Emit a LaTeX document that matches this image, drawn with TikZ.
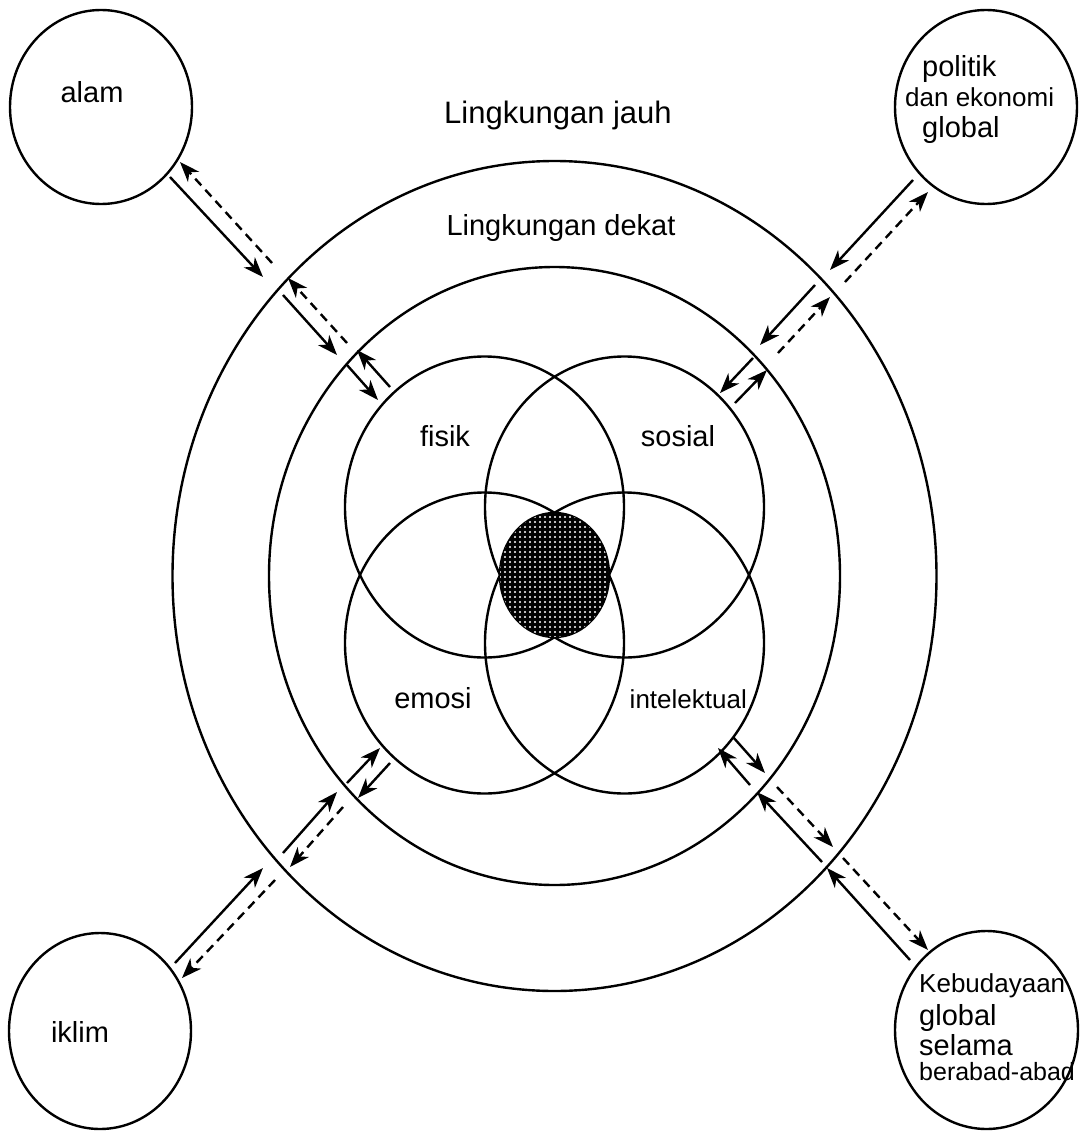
\documentclass[tikz,border=0pt]{standalone}
\usepackage{fontspec}
\setmainfont{Liberation Sans}
\usetikzlibrary{shapes.geometric,arrows.meta,patterns.meta}

\tikzset{
  ring/.style={draw, ellipse, line width=2.4pt, inner sep=0pt},
  lbl/.style={inner sep=0pt, font=\fontsize{29pt}{34pt}\selectfont},
  lblsmall/.style={inner sep=0pt, font=\fontsize{26pt}{30pt}\selectfont},
  inflow/.style={line width=2.4pt, -{Stealth[length=20pt,width=15pt,inset=6pt]}},
  outflow/.style={inflow, dash pattern=on 9pt off 6pt},
  backflow/.style={inflow},
}

\begin{document}
\begin{tikzpicture}[x=1pt, y=-1pt]
  \useasboundingbox (0,0) rectangle (1081,1132);

  % surroundings
  \node[ring, minimum width=764pt, minimum height=830pt] (jauh) at (554.5,576) {};
  \node[ring, minimum width=571pt, minimum height=618pt] (dekat) at (554.5,576) {};

  % the four sides of a person
  \node[ring, minimum width=279pt, minimum height=301pt] (fisik) at (484.5,507) {};
  \node[ring, minimum width=279pt, minimum height=301pt] (sosial) at (624.5,507) {};
  \node[ring, minimum width=279pt, minimum height=301pt] (emosi) at (484.5,643) {};
  \node[ring, minimum width=279pt, minimum height=301pt] (intelektual) at (624.5,643) {};
  \node[ring, minimum width=109pt, minimum height=124pt, fill=black,
        postaction={pattern={Dots[distance=5pt,radius=1.1pt]}, pattern color=white}] (inti) at (554.5,575) {};

  % outside influences
  \node[ring, minimum width=182pt, minimum height=194pt] (alam) at (101,107) {};
  \node[ring, minimum width=182pt, minimum height=194pt] (politik) at (986,107) {};
  \node[ring, minimum width=182pt, minimum height=196pt] (iklim) at (100,1031) {};
  \node[ring, minimum width=183pt, minimum height=198pt] (budaya) at (986.5,1030) {};

  % labels
  \node[inner sep=0pt, font=\fontsize{31pt}{36pt}\selectfont, anchor=base] (jauhlbl) at (558,123) {Lingkungan jauh};
  \node[lbl, anchor=base] (dekatlbl) at (561,235) {Lingkungan dekat};
  \node[lbl, anchor=base] (fisiklbl) at (445,446) {fisik};
  \node[lbl, anchor=base] (sosiallbl) at (678,446) {sosial};
  \node[lbl, anchor=base] (emosilbl) at (433,708) {emosi};
  \node[lblsmall, anchor=base east] (intellbl) at (747,708) {intelektual};
  \node[lbl, anchor=base] (alamlbl) at (92,102) {alam};
  \node[lbl, anchor=base] (iklimlbl) at (80,1042) {iklim};
  \node[lbl, anchor=base west] (pol1) at (922,77) {politik};
  \node[lblsmall, anchor=base west] (pol2) at (905,106) {dan ekonomi};
  \node[lbl, anchor=base west] (pol3) at (922,137) {global};
  \node[lblsmall, anchor=base west] (bud1) at (919,992) {Kebudayaan};
  \node[lbl, anchor=base west] (bud2) at (919,1025) {global};
  \node[lbl, anchor=base west] (bud3) at (919,1055) {selama};
  \node[inner sep=0pt, font=\fontsize{25pt}{29pt}\selectfont, anchor=base west] (bud4) at (919,1080.5) {berabad-abad};

  % influence arrows: solid inwards, dashed outwards
  \foreach \n/\ax/\ay/\bx/\by/\kind in {
      nwa/170/177/263/277/inflow, nwb/272/263/180/162/outflow,
      nwc/283/295/337/355/inflow, nwd/347/343/288/278/outflow,
      nwe/347/365/378/400/inflow, nwf/390/387/357/350/backflow,
      nea/913/180/830/270/inflow, neb/845/282/928/192/outflow,
      nec/815/285/760/345/inflow, ned/778/353/830/297/outflow,
      nee/753/358/720/393/inflow, nef/735/403/767/370/backflow,
      swa/175/963/263/868/inflow, swb/275/880/182/978/outflow,
      swc/283/853/337/792/inflow, swd/343/807/290/867/outflow,
      swe/347/783/380/748/inflow, swf/390/763/358/798/backflow,
      sea/910/960/827/868/inflow, seb/843/858/928/950/outflow,
      sec/822/862/757/792/inflow, sed/777/787/833/847/outflow,
      see/750/785/718/748/inflow, sef/733/737/765/773/backflow}{
    \coordinate (\n-from) at (\ax,\ay);
    \coordinate (\n-to) at (\bx,\by);
    \draw[\kind] (\n-from) -- (\n-to);
  }
\end{tikzpicture}
\end{document}
